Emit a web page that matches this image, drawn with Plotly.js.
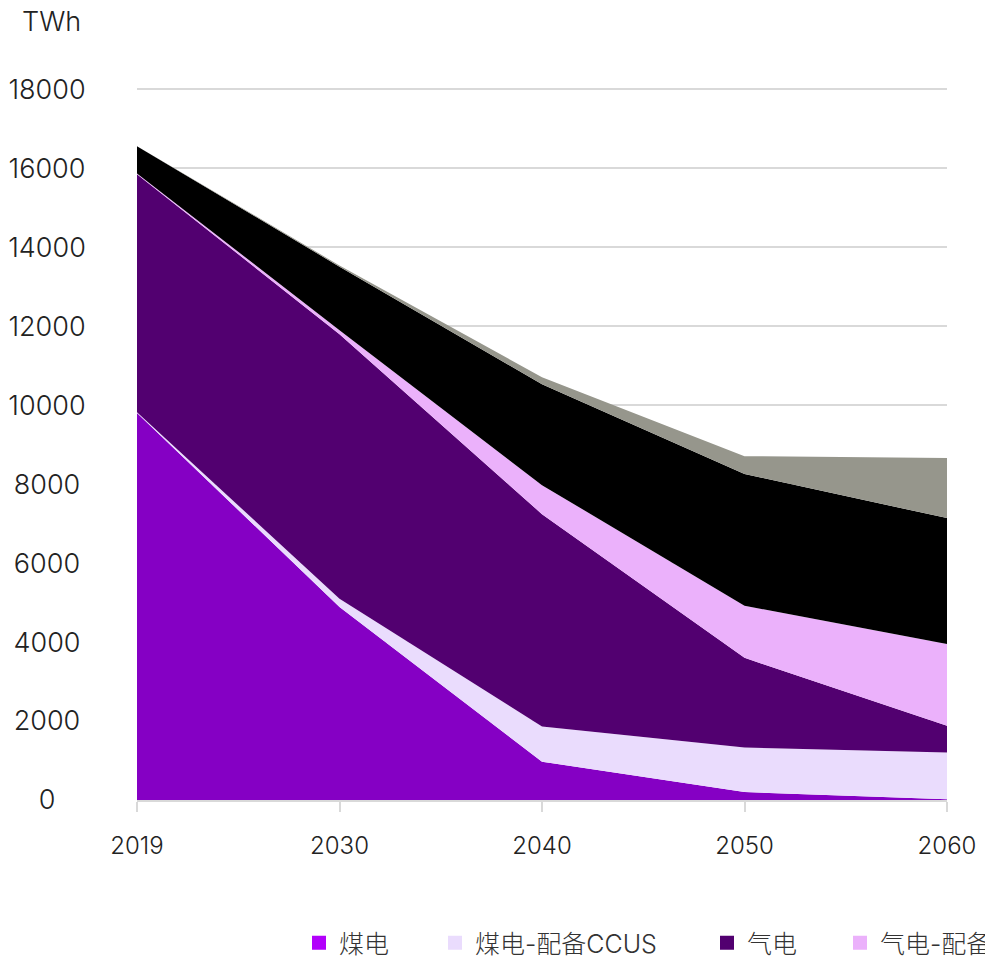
<!DOCTYPE html>
<html>
<head>
<meta charset="utf-8">
<script src="https://cdn.plot.ly/plotly-3.0.1.min.js"></script>
<style>
  html, body { margin: 0; padding: 0; background: #ffffff; }
  #chart { width: 985px; height: 957px; }
</style>
</head>
<body>
<div id="chart"></div>
<script>
// Fossil-fired generation by type, TWh
const years = ['2019', '2030', '2040', '2050', '2060'];
const coal = [9800, 4890, 970, 200, 20];          // 煤电
const coalCcus = [20, 210, 890, 1130, 1180];      // 煤电-配备CCUS
const gas = [6030, 6700, 5380, 2270, 680];        // 气电
const gasCcus = [20, 100, 735, 1320, 2070];       // 气电-配备CCUS
const bio = [690, 1610, 2555, 3340, 3190];        // 生物质
const bioCcus = [0, 30, 180, 450, 1520];          // 生物质-配备CCUS

const seriesNames = ['煤电', '煤电-配备CCUS', '气电', '气电-配备CCUS', '生物质', '生物质-配备CCUS'];
const seriesValues = [coal, coalCcus, gas, gasCcus, bio, bioCcus];
const fillColors = ['#8500c4', '#eadcfd', '#520070', '#ebb1fb', '#000000', '#96968c'];
const swatchColors = ['#b200fb', '#eadcfd', '#520070', '#ebb1fb'];

const FONT = 'Inter, "Noto Sans CJK SC", "Noto Sans", sans-serif';

// stacked areas
const traces = seriesNames.map((name, i) => ({
  type: 'scatter',
  mode: 'none',
  x: years,
  y: seriesValues[i],
  name: name,
  stackgroup: 'one',
  fillcolor: fillColors[i],
  line: { width: 0 },
  showlegend: false,
  legendgroup: name
}));

// square swatches for the legend row, one legend box per entry
const legendIds = ['legend', 'legend2', 'legend3', 'legend4'];
legendIds.forEach((id, i) => {
  traces.push({
    type: 'scatter',
    mode: 'markers',
    x: [null],
    y: [null],
    name: seriesNames[i],
    legend: id,
    legendgroup: seriesNames[i],
    marker: { symbol: 'square', size: 14, color: swatchColors[i] },
    hoverinfo: 'skip'
  });
});

const W = 985, H = 957;
const legendLeft = [299, 435, 707, 840];
function legendBox(px) {
  return {
    orientation: 'h',
    xref: 'container', yref: 'container',
    x: px / W, xanchor: 'left',
    y: 1 - 943 / H, yanchor: 'middle',
    bgcolor: 'rgba(0,0,0,0)',
    borderwidth: 0,
    itemwidth: 30,
    font: { family: FONT, size: 25, color: '#333333', weight: 300 }
  };
}

// plot area: y = 0 at 800px, 18000 at ~89px, with a little headroom so the top gridline is drawn
const yMax = 18060;
const plotTop = 87;

const layout = {
  width: W,
  height: H,
  margin: { l: 137, r: 38, t: plotTop, b: 157, autoexpand: false },
  paper_bgcolor: '#ffffff',
  plot_bgcolor: '#ffffff',
  font: { family: FONT, size: 25, color: '#222222', weight: 300 },
  hovermode: false,
  xaxis: {
    type: 'category',
    categoryarray: years,
    range: [0, 4],
    showgrid: false,
    zeroline: false,
    showline: true,
    linecolor: '#d9d9d9',
    linewidth: 2,
    ticks: 'outside',
    ticklen: 10,
    tickwidth: 2,
    tickcolor: '#d9d9d9',
    ticklabelstandoff: 13,
    tickfont: { family: FONT, size: 24, color: '#222222', weight: 300 }
  },
  yaxis: {
    range: [0, yMax],
    tick0: 0,
    dtick: 2000,
    tickformat: 'd',
    showgrid: true,
    gridcolor: '#d9d9d9',
    gridwidth: 2,
    zeroline: false,
    showline: false,
    ticks: '',
    tickfont: { family: FONT, size: 27, color: '#222222', weight: 300 }
  },
  annotations: [{
    text: 'TWh',
    xref: 'paper', yref: 'paper',
    x: (20 - 137) / 810, xanchor: 'left',
    y: (800 - 22) / (800 - plotTop), yanchor: 'middle',
    showarrow: false,
    font: { family: FONT, size: 27, color: '#222222', weight: 300 }
  }]
};
legendIds.forEach((id, i) => { layout[id] = legendBox(legendLeft[i]); });

Plotly.newPlot('chart', traces, layout, { staticPlot: true, displayModeBar: false }).then(gd => {
  // centre the value labels in the left margin column
  const centreX = 47;
  gd.querySelectorAll('.ytick text').forEach(t => {
    const r = t.getBoundingClientRect();
    const shift = centreX - (r.left + r.width / 2);
    t.setAttribute('x', (parseFloat(t.getAttribute('x')) || 0) + shift);
  });
});
</script>
</body>
</html>
